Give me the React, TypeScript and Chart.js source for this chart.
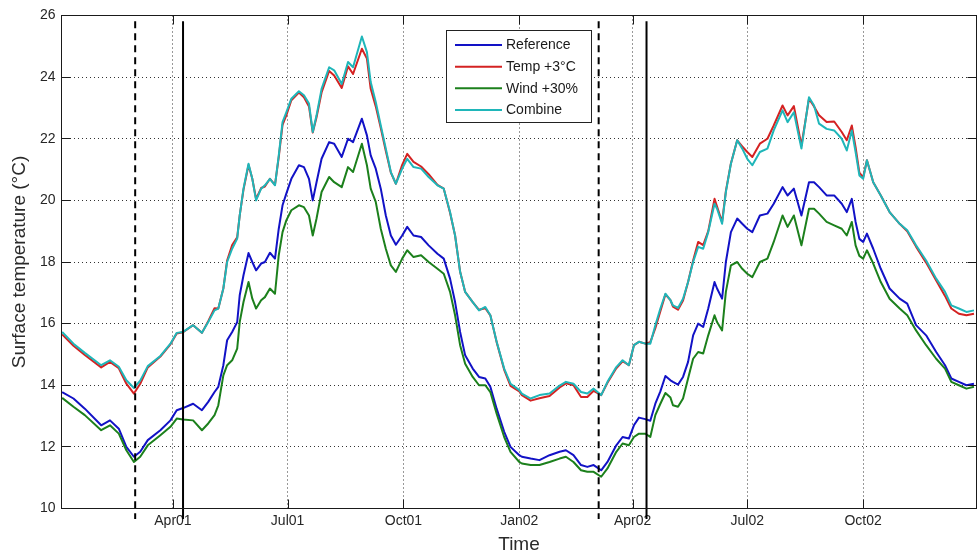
import React, { useEffect, useRef } from 'react';
import { Chart, registerables } from 'chart.js';

Chart.register(...registerables);

// Days since 1 Jan 2001
const days = [
  2, 11, 20, 33, 40, 47, 53, 59, 64, 70, 80, 88, 93, 98, 106, 113, 118, 123,
  126, 130, 133, 137, 141, 143, 146, 150, 153, 156, 160, 163, 167, 171, 174, 177, 180, 184, 190, 194, 198, 201, 204, 208, 214, 218, 224, 229, 233, 240,
  244, 247, 251, 255, 259, 263, 267, 272, 276, 281, 287, 293, 300, 305, 310, 314, 318, 322, 328, 333, 338, 342, 347, 353, 358, 365,
  367, 374, 381, 389, 397, 402, 408, 414, 419, 424, 430, 435, 442, 447, 452, 456, 460, 465, 469, 473, 477, 481, 485,
  487, 491, 495, 499, 503, 507, 511, 515, 520, 522, 526, 529, 533, 538, 542, 546, 550, 556, 562, 567, 574, 578, 583, 589, 595, 599,
  603, 609, 615, 621, 625, 629, 632, 635, 638, 641, 646, 652, 659, 667, 673, 680, 688, 696, 703, 708, 714, 720, 726,
];

const reference = [
  13.78, 13.57, 13.24, 12.7, 12.86, 12.59, 12.0, 11.68, 11.84, 12.22, 12.54, 12.86, 13.19, 13.26, 13.4, 13.19, 13.46, 13.78,
  13.95, 14.65, 15.46, 15.73, 16.05, 16.92, 17.57, 18.29, 18.0, 17.73, 17.95, 18.0, 18.3, 18.11, 19.08, 19.84, 20.22, 20.7, 21.14, 21.08, 20.7, 20.0, 20.59, 21.35, 21.89, 21.84, 21.41, 22.0, 21.89, 22.65,
  22.11, 21.46, 21.03, 20.38, 19.51, 18.86, 18.56, 18.86, 19.14, 18.86, 18.81, 18.54, 18.27, 18.11, 17.46, 16.7, 15.73, 14.97, 14.54, 14.27, 14.22, 13.95, 13.24, 12.49, 12.0, 11.73,
  11.68, 11.62, 11.57, 11.73, 11.84, 11.89, 11.73, 11.41, 11.35, 11.41, 11.24, 11.51, 12.05, 12.32, 12.27, 12.7, 12.95, 12.9, 12.85, 13.4, 13.8, 14.3, 14.16,
  14.11, 14.02, 14.27, 14.76, 15.62, 16.0, 15.89, 16.49, 17.35, 17.14, 16.81, 18.0, 18.97, 19.41, 19.24, 19.08, 18.97, 19.51, 19.57, 19.89, 20.43, 20.16, 20.38, 19.51, 20.59, 20.59,
  20.43, 20.16, 20.16, 19.89, 19.62, 20.05, 19.3, 18.75, 18.65, 18.92, 18.43, 17.78, 17.14, 16.81, 16.65, 15.95, 15.62, 15.08, 14.65, 14.22, 14.11, 14.0, 14.05,
];

const tempPlus3 = [
  15.65, 15.28, 14.98, 14.58, 14.76, 14.55, 14.05, 13.73, 14.05, 14.58, 14.93, 15.33, 15.68, 15.72, 15.95, 15.7, 16.08, 16.5,
  16.49, 17.14, 18.05, 18.55, 18.8, 19.51, 20.35, 21.15, 20.7, 20.05, 20.4, 20.45, 20.7, 20.5, 21.4, 22.45, 22.76, 23.25, 23.5, 23.35, 23.05, 22.2, 22.7, 23.5, 24.2, 24.05, 23.65, 24.35, 24.1, 24.92,
  24.6, 23.62, 23.05, 22.35, 21.6, 20.9, 20.54, 21.15, 21.51, 21.25, 21.1, 20.85, 20.5, 20.38, 19.6, 18.86, 17.68, 17.03, 16.7, 16.45, 16.5, 16.27, 15.4, 14.5, 13.98, 13.8,
  13.68, 13.5, 13.58, 13.65, 13.93, 14.06, 14.0, 13.62, 13.62, 13.82, 13.68, 14.08, 14.55, 14.78, 14.65, 15.3, 15.41, 15.35, 15.4, 15.85, 16.4, 16.95, 16.76,
  16.55, 16.45, 16.75, 17.35, 18.05, 18.65, 18.55, 19.0, 20.05, 19.8, 19.3, 20.3, 21.2, 21.95, 21.75, 21.57, 21.41, 21.84, 22.0, 22.43, 23.08, 22.76, 23.06, 21.78, 23.3, 23.05,
  22.76, 22.54, 22.56, 22.22, 21.95, 22.43, 21.73, 20.9, 20.75, 21.3, 20.59, 20.16, 19.62, 19.24, 19.0, 18.5, 17.98, 17.4, 16.9, 16.49, 16.32, 16.27, 16.32,
];

const windPlus30 = [
  13.59, 13.3, 13.03, 12.54, 12.7, 12.43, 11.89, 11.51, 11.68, 12.05, 12.38, 12.65, 12.92, 12.89, 12.86, 12.54, 12.76, 13.03,
  13.35, 14.32, 14.65, 14.81, 15.19, 16.05, 16.7, 17.35, 16.81, 16.49, 16.76, 16.86, 17.14, 16.97, 18.22, 18.97, 19.35, 19.68, 19.84, 19.78, 19.51, 18.86, 19.41, 20.27, 20.76, 20.59, 20.43, 21.08, 20.92, 21.84,
  21.14, 20.38, 19.95, 19.08, 18.43, 17.89, 17.68, 18.11, 18.38, 18.16, 18.22, 18.0, 17.78, 17.62, 17.03, 16.27, 15.3, 14.7, 14.27, 14.0, 14.0, 13.78, 13.08, 12.32, 11.84, 11.51,
  11.46, 11.41, 11.41, 11.51, 11.62, 11.68, 11.51, 11.24, 11.19, 11.19, 11.03, 11.3, 11.84, 12.11, 12.05, 12.32, 12.43, 12.43, 12.32, 13.03, 13.4, 13.75, 13.6,
  13.35, 13.3, 13.57, 14.22, 14.86, 15.08, 15.03, 15.62, 16.27, 16.05, 15.78, 17.03, 17.89, 18.0, 17.78, 17.62, 17.51, 18.0, 18.11, 18.65, 19.51, 19.14, 19.51, 18.54, 19.73, 19.73,
  19.57, 19.3, 19.19, 19.08, 18.86, 19.3, 18.54, 18.2, 18.11, 18.38, 17.95, 17.35, 16.81, 16.49, 16.27, 15.78, 15.3, 14.86, 14.54, 14.11, 14.0, 13.89, 13.95,
];

const combine = [
  15.73, 15.35, 15.05, 14.65, 14.81, 14.6, 14.16, 13.91, 14.15, 14.62, 14.95, 15.35, 15.7, 15.73, 15.95, 15.7, 16.05, 16.43,
  16.49, 17.14, 18.0, 18.43, 18.76, 19.51, 20.38, 21.19, 20.7, 20.0, 20.38, 20.49, 20.7, 20.49, 21.46, 22.54, 22.86, 23.3, 23.54, 23.41, 23.14, 22.22, 22.76, 23.62, 24.32, 24.22, 23.78, 24.49, 24.32, 25.32,
  24.81, 23.84, 23.19, 22.43, 21.68, 20.92, 20.54, 21.03, 21.35, 21.08, 21.03, 20.76, 20.49, 20.38, 19.62, 18.86, 17.68, 17.03, 16.7, 16.43, 16.54, 16.27, 15.41, 14.54, 14.05, 13.84,
  13.73, 13.57, 13.68, 13.73, 13.99, 14.11, 14.05, 13.78, 13.73, 13.89, 13.68, 14.11, 14.59, 14.81, 14.65, 15.3, 15.41, 15.35, 15.35, 15.95, 16.49, 16.97, 16.76,
  16.59, 16.51, 16.81, 17.35, 18.0, 18.49, 18.43, 18.97, 19.89, 19.73, 19.24, 20.27, 21.19, 21.95, 21.68, 21.35, 21.14, 21.57, 21.68, 22.27, 22.92, 22.54, 22.86, 21.68, 23.35, 23.08,
  22.49, 22.32, 22.27, 22.0, 21.62, 22.27, 21.57, 20.81, 20.7, 21.3, 20.59, 20.16, 19.62, 19.24, 19.03, 18.54, 18.05, 17.46, 17.03, 16.59, 16.49, 16.38, 16.43,
];

const seriesNames = ['Reference', 'Temp +3°C', 'Wind +30%', 'Combine'];
const seriesColors = ['#1212c6', '#d42222', '#1c801c', '#1fb6b9'];

const tickDays = [90, 181, 273, 365, 455, 546, 638];
const tickLabels = ['Apr01', 'Jul01', 'Oct01', 'Jan02', 'Apr02', 'Jul02', 'Oct02'];
const xMin = 1.5;
const xMax = 728;
const yMin = 10;
const yMax = 26;
const yStep = 2;

const dashedMarkerDays = [60, 428];
const solidMarkerDays = [98, 466];
const markerTop = 25.81;
const markerBottom = 9.66;

const xTitle = 'Time';
const yTitle = 'Surface temperature (°C)';

const FONT = "'Liberation Sans', Arial, Helvetica, sans-serif";

const matlabPlugin = {
  id: 'matlabFrame',
  afterDatasetsDraw(chart: any) {
    const { ctx, chartArea: a, scales } = chart;
    const xs = scales.x;
    const ys = scales.y;
    const L = a.left, R = a.right, T = a.top, B = a.bottom;
    ctx.save();
    ctx.strokeStyle = '#1a1a1a';
    ctx.lineWidth = 1;
    ctx.setLineDash([]);
    ctx.strokeRect(L, T, R - L, B - T);
    const tl = 9;
    ctx.beginPath();
    tickDays.forEach((d) => {
      const px = Math.round(xs.getPixelForValue(d)) + 0.5;
      ctx.moveTo(px, B);
      ctx.lineTo(px, B - tl);
      ctx.moveTo(px, T);
      ctx.lineTo(px, T + tl);
    });
    for (let v = yMin; v <= yMax; v += yStep) {
      const py = Math.round(ys.getPixelForValue(v) - 0.5) + 0.5;
      ctx.moveTo(L, py);
      ctx.lineTo(L + tl, py);
      ctx.moveTo(R, py);
      ctx.lineTo(R - tl, py);
    }
    ctx.stroke();
    ctx.restore();
  },
  afterDraw(chart: any) {
    const { ctx } = chart;
    const bx = 446.5, by = 30.5, bw = 145, bh = 92;
    ctx.save();
    ctx.fillStyle = '#ffffff';
    ctx.fillRect(bx, by, bw, bh);
    ctx.strokeStyle = '#222222';
    ctx.lineWidth = 1;
    ctx.setLineDash([]);
    ctx.strokeRect(bx, by, bw, bh);
    ctx.font = `14px ${FONT}`;
    ctx.textBaseline = 'middle';
    ctx.textAlign = 'left';
    const rowY = [45, 66.7, 88.3, 110];
    seriesNames.forEach((name, i) => {
      const y = rowY[i];
      ctx.strokeStyle = seriesColors[i];
      ctx.lineWidth = 2;
      ctx.beginPath();
      ctx.moveTo(455, y);
      ctx.lineTo(502, y);
      ctx.stroke();
      ctx.fillStyle = '#1a1a1a';
      ctx.fillText(name, 506, y + 0.5);
    });
    ctx.restore();
  },
};

export default function App() {
  const canvasRef = useRef<HTMLCanvasElement | null>(null);

  useEffect(() => {
    if (!canvasRef.current) return;
    const series = [reference, tempPlus3, windPlus30, combine];
    const drawOrder = [4, 3, 2, 1];
    const dataDatasets = series.map((vals, i) => ({
      label: seriesNames[i],
      data: days.map((d, j) => ({ x: d, y: vals[j] })),
      borderColor: seriesColors[i],
      backgroundColor: seriesColors[i],
      borderWidth: 2,
      pointRadius: 0,
      tension: 0,
      fill: false,
      borderJoinStyle: 'round' as const,
      order: drawOrder[i],
    }));
    const markerDatasets = [
      ...dashedMarkerDays.map((d) => ({
        label: 'dashed',
        data: [{ x: d, y: markerTop }, { x: d, y: markerBottom }],
        borderColor: '#000000',
        borderWidth: 2,
        borderDash: [7, 5],
        pointRadius: 0,
        fill: false,
        clip: false as const,
        order: 0,
      })),
      ...solidMarkerDays.map((d) => ({
        label: 'solid',
        data: [{ x: d, y: markerTop }, { x: d, y: markerBottom }],
        borderColor: '#000000',
        borderWidth: 2,
        pointRadius: 0,
        fill: false,
        clip: false as const,
        order: 0,
      })),
    ];

    const chart = new Chart(canvasRef.current, {
      type: 'line',
      data: { datasets: [...dataDatasets, ...markerDatasets] as any },
      options: {
        animation: false,
        responsive: false,
        devicePixelRatio: 1,
        events: [],
        layout: { padding: { left: 0, top: 15.5, right: 3.5, bottom: 0 } },
        plugins: { legend: { display: false }, tooltip: { enabled: false } },
        scales: {
          x: {
            type: 'linear',
            min: xMin,
            max: xMax,
            afterBuildTicks: (scale: any) => {
              scale.ticks = tickDays.map((v) => ({ value: v }));
            },
            afterFit: (scale: any) => {
              scale.height = 47.5;
            },
            ticks: {
              autoSkip: false,
              maxRotation: 0,
              padding: 4,
              color: '#262626',
              font: { family: FONT, size: 14 },
              callback: (value: any) => {
                const i = tickDays.indexOf(Number(value));
                return i >= 0 ? tickLabels[i] : '';
              },
            },
            grid: { color: 'rgba(0,0,0,0.8)', lineWidth: 1, drawTicks: false },
            border: { display: false, dash: [1, 3] },
            title: {
              display: true,
              text: xTitle,
              color: '#2a2a2a',
              font: { family: FONT, size: 19 },
              padding: { top: 0, bottom: 0 },
            },
          },
          y: {
            type: 'linear',
            min: yMin,
            max: yMax,
            afterFit: (scale: any) => {
              scale.width = 61.5;
            },
            ticks: {
              stepSize: yStep,
              padding: 6,
              color: '#262626',
              font: { family: FONT, size: 14 },
            },
            grid: { color: 'rgba(0,0,0,0.8)', lineWidth: 1, drawTicks: false },
            border: { display: false, dash: [1, 3] },
            title: {
              display: true,
              text: yTitle,
              color: '#2a2a2a',
              font: { family: FONT, size: 19 },
              padding: { top: 8, bottom: 0 },
            },
          },
        },
      },
      plugins: [matlabPlugin],
    });
    return () => chart.destroy();
  }, []);

  return (
    <div style={{ position: 'absolute', left: 0, top: 0, width: 980, height: 556, background: '#ffffff' }}>
      <canvas ref={canvasRef} width={980} height={556} />
    </div>
  );
}
